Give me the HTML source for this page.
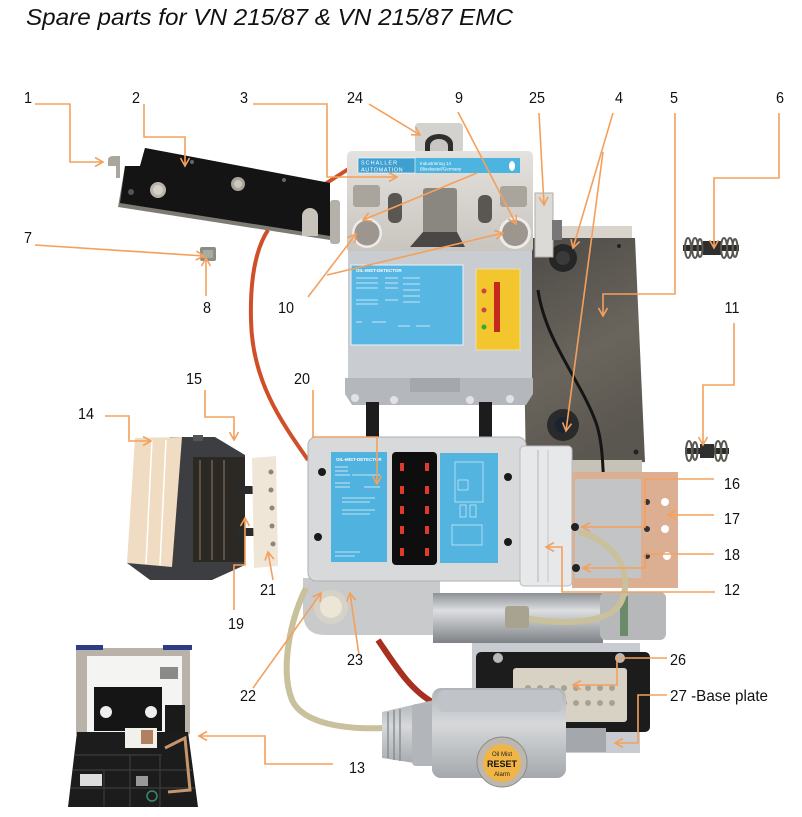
<!DOCTYPE html>
<html><head><meta charset="utf-8">
<style>
html,body{margin:0;padding:0;background:#fff;}
body{width:802px;height:817px;overflow:hidden;}
svg{display:block;}
.t{font-family:"Liberation Sans",Arial,sans-serif;font-size:16px;fill:#111;}
.ld{fill:none;stroke:#f4a05c;stroke-width:1.6;}
</style></head>
<body>
<svg width="802" height="817" viewBox="0 0 802 817" xmlns="http://www.w3.org/2000/svg">
<defs>
<marker id="a" markerWidth="12" markerHeight="12" refX="9" refY="5" orient="auto" markerUnits="userSpaceOnUse">
<path d="M1,0.5 L9,5 L1,9.5" fill="none" stroke="#f4a05c" stroke-width="1.6"/>
</marker>
<linearGradient id="plate" x1="0" y1="0" x2="0.3" y2="1">
<stop offset="0" stop-color="#4c4a47"/><stop offset="0.6" stop-color="#6a655c"/><stop offset="1" stop-color="#5a5650"/>
</linearGradient>
<linearGradient id="metal" x1="0" y1="0" x2="0" y2="1">
<stop offset="0" stop-color="#e4e2de"/><stop offset="1" stop-color="#c8c4be"/>
</linearGradient>
<linearGradient id="cyl" x1="0" y1="0" x2="0" y2="1">
<stop offset="0" stop-color="#8e9296"/><stop offset="0.35" stop-color="#dcdee0"/><stop offset="1" stop-color="#7e8286"/>
</linearGradient>
<linearGradient id="hood" x1="0" y1="0" x2="0" y2="1">
<stop offset="0" stop-color="#b0b4b8"/><stop offset="0.4" stop-color="#d6d8da"/><stop offset="1" stop-color="#a4a8ac"/>
</linearGradient>
</defs>

<!-- Title -->
<text x="26" y="25" textLength="487" lengthAdjust="spacingAndGlyphs" style="font-family:'Liberation Sans',Arial,sans-serif;font-size:23px;font-style:italic;fill:#111;">Spare parts for VN 215/87 &amp; VN 215/87 EMC</text>

<!-- ===== Back plate ===== -->
<rect x="538" y="226" width="94" height="14" fill="#d8d4cc"/>
<polygon points="522,238 635,238 645,462 526,470" fill="url(#plate)"/>
<circle cx="619" cy="246" r="2" fill="#222"/>
<circle cx="636" cy="452" r="2.5" fill="#222"/>
<rect x="568" y="460" width="74" height="14" fill="#c6c2b8"/>
<!-- black cable -->
<path d="M538 290 C545 340 580 380 595 420 C603 440 603 470 604 492" fill="none" stroke="#151515" stroke-width="3"/>
<!-- grommets -->
<circle cx="563" cy="258" r="14" fill="#262626"/><circle cx="563" cy="258" r="7" fill="#3a3a3a"/>
<circle cx="563" cy="425" r="16" fill="#2a2a2a"/><circle cx="563" cy="425" r="8" fill="#1a2430"/>

<!-- springs 6 & 11 -->
<g>
<rect x="683" y="245" width="56" height="6" fill="#2a2a2a"/>
<rect x="703" y="241" width="18" height="14" fill="#2e2e2e"/>
<g fill="none" stroke="#5a5650" stroke-width="2">
<ellipse cx="688" cy="248" rx="3" ry="10"/><ellipse cx="695" cy="248" rx="3" ry="10"/><ellipse cx="700" cy="248" rx="2.5" ry="9"/>
<ellipse cx="724" cy="248" rx="3" ry="10"/><ellipse cx="730" cy="248" rx="3" ry="10"/><ellipse cx="735" cy="248" rx="2.5" ry="9"/>
</g>
</g>
<g>
<rect x="685" y="448" width="44" height="6" fill="#2a2a2a"/>
<rect x="700" y="444" width="14" height="14" fill="#2e2e2e"/>
<g fill="none" stroke="#5a5650" stroke-width="2">
<ellipse cx="689" cy="451" rx="3" ry="10"/><ellipse cx="695" cy="451" rx="2.5" ry="9"/>
<ellipse cx="718" cy="451" rx="3" ry="10"/><ellipse cx="724" cy="451" rx="3" ry="10"/>
</g>
</g>

<!-- red cable upper -->
<path d="M350 168 L322 186" fill="none" stroke="#cf4f28" stroke-width="4"/>
<path d="M268 230 C255 250 250 280 251 320 C252 380 280 420 308 460" fill="none" stroke="#cf4f28" stroke-width="4"/>

<!-- bracket part 2 -->
<polygon points="145,148 330,183 330,240 118,207 125,166 140,166" fill="#7e7a74"/>
<polygon points="145,148 330,183 330,236 120,203 125,166 140,166" fill="#141414"/>
<circle cx="158" cy="190" r="8" fill="#b8b4aa"/><circle cx="158" cy="190" r="5" fill="#d4d0c6"/>
<circle cx="238" cy="184" r="7" fill="#a8a49a"/><circle cx="238" cy="184" r="4" fill="#ccc8be"/>
<path d="M302 216 a8 8 0 0 1 16 0 v20 h-16 z" fill="#c8c4bc"/>
<circle cx="192" cy="162" r="2" fill="#666"/><circle cx="284" cy="180" r="2" fill="#666"/><circle cx="131" cy="192" r="3" fill="#555"/>
<rect x="330" y="200" width="10" height="44" rx="3" fill="#b4b0aa"/>
<!-- part 1 clip -->
<path d="M108 160 q0 -4 6 -4 h6 v22 h-4 v-12 h-8 z" fill="#aaa69e"/>
<!-- part 7/8 bolt -->
<rect x="200" y="247" width="16" height="14" rx="2" fill="#8a8e84"/>
<rect x="203" y="250" width="10" height="8" fill="#a8aca0"/>

<!-- ===== Upper device ===== -->
<rect x="415" y="123" width="48" height="30" rx="4" fill="#d4d2ce"/>
<path d="M425 152 v-8 a14 10 0 0 1 28 0 v8 z" fill="#2e2e2e"/>
<path d="M430 152 v-6 a9 7 0 0 1 18 0 v6 z" fill="#c8c6c2"/>
<rect x="347" y="151" width="186" height="102" rx="5" fill="url(#metal)"/>
<rect x="358" y="158" width="162" height="15" fill="#4db4e0"/>
<rect x="358" y="158" width="57" height="15" fill="#3f9fd0" stroke="#fff" stroke-width="0.6"/>
<text x="361" y="164.5" style="font-family:'Liberation Sans',sans-serif;font-size:5.5px;fill:#fff;letter-spacing:1px">SCHALLER</text>
<text x="361" y="171.5" style="font-family:'Liberation Sans',sans-serif;font-size:5.5px;fill:#fff;letter-spacing:0.6px">AUTOMATION</text>
<text x="420" y="165" style="font-family:'Liberation Sans',sans-serif;font-size:4.5px;fill:#fff">Industriering 14</text>
<text x="420" y="170.5" style="font-family:'Liberation Sans',sans-serif;font-size:4.5px;fill:#fff">Blieskastel/Germany</text>
<ellipse cx="512" cy="166" rx="3" ry="5" fill="#fff"/>
<rect x="353" y="185" width="27" height="22" rx="3" fill="#a9a49c"/>
<rect x="500" y="186" width="27" height="21" rx="3" fill="#a9a49c"/>
<rect x="388" y="193" width="14" height="30" rx="6" fill="#5a5652"/>
<rect x="478" y="195" width="14" height="28" rx="6" fill="#5a5652"/>
<rect x="423" y="188" width="34" height="46" rx="3" fill="#8a8680"/>
<polygon points="410,247 423,232 457,232 465,247" fill="#4a4846"/>
<circle cx="367" cy="233" r="15" fill="#eeecea"/><circle cx="367" cy="233" r="12.5" fill="#9c968e"/>
<circle cx="515" cy="233" r="16" fill="#eeecea"/><circle cx="515" cy="233" r="13" fill="#9c968e"/>
<rect x="348" y="251" width="184" height="128" fill="#c9ccd0"/>
<rect x="351" y="265" width="112" height="80" fill="#58b6e2" stroke="#e8f4fa" stroke-width="1"/>
<text x="356" y="272" style="font-family:'Liberation Sans',sans-serif;font-size:4.5px;fill:#fff;font-weight:bold">OIL-MIST-DETECTOR</text>
<g stroke="#e6f4fb" stroke-width="0.8">
<line x1="356" y1="278" x2="378" y2="278"/><line x1="385" y1="278" x2="398" y2="278"/><line x1="403" y1="278" x2="420" y2="278"/>
<line x1="356" y1="283" x2="378" y2="283"/><line x1="385" y1="283" x2="398" y2="283"/><line x1="403" y1="284" x2="420" y2="284"/>
<line x1="356" y1="288" x2="378" y2="288"/><line x1="385" y1="288" x2="398" y2="288"/><line x1="403" y1="290" x2="420" y2="290"/>
<line x1="356" y1="300" x2="378" y2="300"/><line x1="385" y1="300" x2="398" y2="300"/><line x1="403" y1="296" x2="420" y2="296"/>
<line x1="356" y1="304" x2="378" y2="304"/><line x1="403" y1="302" x2="420" y2="302"/>
<line x1="356" y1="322" x2="362" y2="322"/><line x1="372" y1="322" x2="386" y2="322"/><line x1="398" y1="326" x2="410" y2="326"/><line x1="416" y1="326" x2="430" y2="326"/>
</g>
<rect x="476" y="269" width="44" height="81" fill="#f2c62c" stroke="#e8e0b0" stroke-width="1"/>
<rect x="494" y="282" width="6" height="50" fill="#c42a1c"/>
<circle cx="484" cy="291" r="2.5" fill="#c44"/><circle cx="484" cy="310" r="2.5" fill="#c44"/><circle cx="484" cy="327" r="2.5" fill="#3a3"/>
<path d="M345 378 H533 V394 L526 405 H352 L345 394 Z" fill="#b4b8bc"/>
<rect x="410" y="378" width="50" height="14" fill="#a4a8ac"/>
<circle cx="355" cy="398" r="4" fill="#e2e2e2"/><circle cx="394" cy="400" r="4" fill="#e2e2e2"/><circle cx="470" cy="400" r="4" fill="#e2e2e2"/><circle cx="510" cy="399" r="4" fill="#e2e2e2"/>
<rect x="366" y="402" width="13" height="40" fill="#1c1c1c"/>
<rect x="479" y="402" width="13" height="40" fill="#1c1c1c"/>
<rect x="535" y="193" width="18" height="64" fill="#dcdad6" stroke="#b0aea8" stroke-width="1"/>
<rect x="552" y="220" width="10" height="20" fill="#777"/>

<!-- ===== Middle area ===== -->
<!-- gasket and casting -->
<rect x="572" y="472" width="106" height="116" fill="#dcae92"/>
<rect x="575" y="479" width="66" height="99" fill="#c2c4c6"/>
<circle cx="665" cy="502" r="4" fill="#fff"/><circle cx="665" cy="529" r="4" fill="#fff"/><circle cx="667" cy="556" r="4" fill="#fff"/>
<circle cx="647" cy="502" r="3" fill="#333"/><circle cx="647" cy="529" r="3" fill="#333"/><circle cx="647" cy="556" r="3" fill="#333"/>
<!-- bottom housing + cylinder -->
<path d="M303 578 H440 V635 H325 Q303 635 303 612 Z" fill="#c8cacc"/>
<rect x="433" y="593" width="170" height="50" fill="url(#cyl)"/>
<rect x="600" y="592" width="66" height="48" rx="6" fill="#b6b8ba"/>
<rect x="620" y="596" width="8" height="40" fill="#6a8a6a"/>
<circle cx="331" cy="607" r="17" fill="#d6d2c8"/><circle cx="331" cy="607" r="11" fill="#ece6d6"/>
<!-- main box -->
<rect x="308" y="437" width="218" height="144" rx="8" fill="#d7d9db" stroke="#aeb0b2" stroke-width="1"/>
<rect x="520" y="446" width="52" height="140" rx="4" fill="#e6e8ea" stroke="#b8babc" stroke-width="1"/>
<line x1="538" y1="450" x2="538" y2="582" stroke="#c4c6c8" stroke-width="1.5"/>
<line x1="548" y1="450" x2="548" y2="582" stroke="#c4c6c8" stroke-width="1"/>
<rect x="331" y="452" width="56" height="110" fill="#50b2de"/>
<text x="336" y="461" style="font-family:'Liberation Sans',sans-serif;font-size:4.5px;fill:#fff;font-weight:bold">OIL-MIST-DETECTOR</text>
<g stroke="#e6f4fb" stroke-width="0.8">
<line x1="335" y1="467" x2="348" y2="467"/><line x1="335" y1="471" x2="348" y2="471"/><line x1="335" y1="475" x2="350" y2="475"/><line x1="352" y1="475" x2="380" y2="475"/>
<line x1="335" y1="483" x2="350" y2="483"/><line x1="335" y1="487" x2="350" y2="487"/><line x1="364" y1="487" x2="380" y2="487"/>
<line x1="342" y1="498" x2="375" y2="498"/><line x1="342" y1="502" x2="370" y2="502"/><line x1="342" y1="510" x2="375" y2="510"/><line x1="342" y1="514" x2="370" y2="514"/>
<line x1="335" y1="552" x2="360" y2="552"/><line x1="335" y1="556" x2="355" y2="556"/>
</g>
<rect x="392" y="452" width="45" height="113" rx="4" fill="#0e0e0e"/>
<g fill="#e03a2a">
<rect x="400" y="463" width="4" height="8"/><rect x="425" y="463" width="4" height="8"/>
<rect x="400" y="486" width="4" height="8"/><rect x="425" y="486" width="4" height="8"/>
<rect x="400" y="506" width="4" height="8"/><rect x="425" y="506" width="4" height="8"/>
<rect x="400" y="526" width="4" height="8"/><rect x="425" y="526" width="4" height="8"/>
<rect x="400" y="548" width="4" height="8"/><rect x="425" y="548" width="4" height="8"/>
</g>
<rect x="440" y="453" width="58" height="110" fill="#52b4df"/>
<g fill="none" stroke="#d8eef8" stroke-width="0.7">
<rect x="455" y="462" width="28" height="40"/><rect x="458" y="480" width="10" height="10"/>
<rect x="460" y="505" width="6" height="12"/><rect x="470" y="505" width="6" height="12"/>
<path d="M452 525 h30 v20 h-30 z"/>
</g>
<circle cx="322" cy="472" r="4" fill="#1a1a1a"/><circle cx="318" cy="537" r="4" fill="#1a1a1a"/>
<circle cx="508" cy="477" r="4" fill="#1a1a1a"/><circle cx="508" cy="542" r="4" fill="#1a1a1a"/>
<circle cx="575" cy="527" r="4" fill="#222"/><circle cx="576" cy="568" r="4" fill="#222"/>
<!-- tan cables -->
<path d="M578 532 C612 540 634 570 622 600 C612 625 560 625 525 618" fill="none" stroke="#c9c09c" stroke-width="6"/>
<rect x="505" y="606" width="24" height="22" rx="3" fill="#a8a290"/>
<path d="M306 588 C290 620 280 670 292 700 C302 722 340 730 385 728" fill="none" stroke="#c9c09c" stroke-width="6"/>
<!-- red cable lower -->
<path d="M378 640 C395 665 410 690 434 703" fill="none" stroke="#a83020" stroke-width="6"/>

<!-- ===== Connector bottom ===== -->
<rect x="472" y="643" width="168" height="110" fill="#c8ccd0"/>
<rect x="476" y="652" width="174" height="80" rx="5" fill="#1c1c1c"/>
<rect x="513" y="668" width="114" height="54" rx="3" fill="#d8d2c4"/>
<g fill="#a8a294">
<circle cx="528" cy="688" r="3"/><circle cx="540" cy="688" r="3"/><circle cx="552" cy="688" r="3"/><circle cx="564" cy="688" r="3"/><circle cx="576" cy="688" r="3"/><circle cx="588" cy="688" r="3"/><circle cx="600" cy="688" r="3"/><circle cx="612" cy="688" r="3"/>
<circle cx="528" cy="703" r="3"/><circle cx="540" cy="703" r="3"/><circle cx="552" cy="703" r="3"/><circle cx="564" cy="703" r="3"/><circle cx="576" cy="703" r="3"/><circle cx="588" cy="703" r="3"/><circle cx="600" cy="703" r="3"/><circle cx="612" cy="703" r="3"/>
</g>
<circle cx="498" cy="658" r="5" fill="#b8b8b4"/><circle cx="620" cy="658" r="5" fill="#b8b8b4"/>
<rect x="566" y="728" width="40" height="24" fill="#a4a8ac"/>
<polygon points="382,712 434,700 434,766 382,758" fill="url(#hood)"/>
<g stroke="#8a8e92" stroke-width="1.5"><line x1="388" y1="712" x2="388" y2="758"/><line x1="394" y1="710" x2="394" y2="760"/><line x1="400" y1="709" x2="400" y2="761"/></g>
<rect x="412" y="704" width="24" height="62" rx="4" fill="#b2b6ba"/>
<rect x="432" y="688" width="134" height="90" rx="9" fill="url(#hood)"/>
<rect x="438" y="690" width="124" height="22" rx="6" fill="#c0c4c8"/>
<circle cx="502" cy="762" r="25" fill="#bcb8b0" stroke="#8c8a86" stroke-width="1"/>
<circle cx="502" cy="763" r="19" fill="#f0b545"/>
<text x="502" y="756" text-anchor="middle" style="font-family:'Liberation Sans',sans-serif;font-size:6px;fill:#222">Oil Mist</text>
<text x="502" y="767" text-anchor="middle" style="font-family:'Liberation Sans',sans-serif;font-size:9px;font-weight:bold;fill:#111">RESET</text>
<text x="502" y="776" text-anchor="middle" style="font-family:'Liberation Sans',sans-serif;font-size:6px;fill:#222">Alarm</text>

<!-- ===== Filter 14/15, part 21 ===== -->
<polygon points="170,437 215,437 245,455 245,565 212,580 150,580 127,563 170,560" fill="#3c3e42"/>
<rect x="193" y="457" width="52" height="105" fill="#2c2824"/>
<g stroke="#5e5244" stroke-width="2"><line x1="200" y1="460" x2="200" y2="560"/><line x1="212" y1="460" x2="212" y2="560"/><line x1="224" y1="460" x2="224" y2="560"/></g>
<rect x="193" y="435" width="10" height="6" fill="#555"/>
<polygon points="135,438 182,437 172,567 127,563" fill="#f0dcc2"/>
<line x1="152" y1="440" x2="146" y2="564" stroke="#fff" stroke-width="1.5"/>
<line x1="166" y1="440" x2="160" y2="565" stroke="#fff" stroke-width="1.5"/>
<rect x="235" y="486" width="20" height="8" fill="#2a2a2a"/>
<rect x="235" y="528" width="20" height="8" fill="#2a2a2a"/>
<polygon points="252,458 276,456 278,566 254,568" fill="#efe6d8"/>
<g fill="#8a8680"><circle cx="271" cy="472" r="2.5"/><circle cx="271" cy="490" r="2.5"/><circle cx="272" cy="508" r="2.5"/><circle cx="272" cy="526" r="2.5"/><circle cx="273" cy="544" r="2.5"/></g>

<!-- ===== Kit box 13 ===== -->
<rect x="76" y="648" width="114" height="86" fill="#b8b2a8"/>
<rect x="87" y="656" width="95" height="76" fill="#f4f4f2"/>
<rect x="94" y="687" width="68" height="44" fill="#151515"/>
<circle cx="106" cy="712" r="6" fill="#eee"/><circle cx="151" cy="712" r="6" fill="#eee"/>
<rect x="165" y="705" width="20" height="32" fill="#1a1a1a"/>
<rect x="160" y="667" width="18" height="12" fill="#8a8a8a"/>
<rect x="76" y="645" width="27" height="5" fill="#2e3c88"/>
<rect x="163" y="645" width="29" height="5" fill="#2e3c88"/>
<polygon points="77,732 188,732 198,807 68,807" fill="#1c1c1c"/>
<g stroke="#3c3c3c" stroke-width="1.2" fill="none">
<line x1="75" y1="755" x2="162" y2="755"/><line x1="73" y1="770" x2="192" y2="770"/><line x1="71" y1="788" x2="195" y2="788"/>
<line x1="104" y1="770" x2="104" y2="807"/><line x1="130" y1="755" x2="130" y2="807"/><line x1="160" y1="755" x2="160" y2="807"/>
</g>
<rect x="125" y="728" width="32" height="20" fill="#f2f0ea"/>
<rect x="141" y="730" width="12" height="14" fill="#b08060"/>
<polyline points="165,748 185,738 190,790 168,792" fill="none" stroke="#c8966c" stroke-width="3"/>
<rect x="80" y="774" width="22" height="12" fill="#ddd"/>
<rect x="136" y="776" width="12" height="10" fill="#999"/>
<circle cx="152" cy="796" r="5" fill="none" stroke="#3a8a6a" stroke-width="1.5"/>

<!-- ===== Leader lines ===== -->
<g class="ld" marker-end="url(#a)">
<polyline points="35,104 70,104 70,162 103,162"/>
<polyline points="144,104 144,137 185,137 185,166"/>
<polyline points="253,104 327,104 327,177 397,177"/>
<polyline points="369,104 420,135"/>
<polyline points="458,112 516,224"/>
<polyline points="477,173 363,220"/>
<polyline points="308,297 356,234"/>
<polyline points="327,275 503,233"/>
<polyline points="539,113 544,205"/>
<polyline points="613,113 573,248"/>
<polyline points="603,152 566,431"/>
<polyline points="675,113 675,294 603,294 603,316"/>
<polyline points="779,113 779,178 714,178 714,248"/>
<polyline points="35,245 204,256"/>
<polyline points="206,296 206,258"/>
<polyline points="734,323 734,385 703,385 703,445"/>
<polyline points="205,390 205,417 234,417 234,440"/>
<polyline points="105,416 129,416 129,441 151,441"/>
<polyline points="313,390 313,437 377,437 377,484"/>
<polyline points="714,479 645,479 645,527 582,527"/>
<polyline points="714,515 668,515"/>
<polyline points="714,554 645,554 645,568 583,568"/>
<polyline points="715,592 562,592 562,547 546,547"/>
<polyline points="273,580 268,552"/>
<polyline points="234,610 234,565 245,565 245,518"/>
<polyline points="253,688 321,593"/>
<polyline points="359,655 350,593"/>
<polyline points="667,658 617,658 617,685 573,685"/>
<polyline points="667,695 638,695 638,743 615,743"/>
<polyline points="333,764 265,764 265,736 199,736"/>
</g>

<!-- ===== Labels ===== -->
<g class="t" text-anchor="middle">
<text transform="translate(28 103) scale(.9 1)">1</text>
<text transform="translate(136 103) scale(.9 1)">2</text>
<text transform="translate(244 103) scale(.9 1)">3</text>
<text transform="translate(355 103) scale(.9 1)">24</text>
<text transform="translate(459 103) scale(.9 1)">9</text>
<text transform="translate(537 103) scale(.9 1)">25</text>
<text transform="translate(619 103) scale(.9 1)">4</text>
<text transform="translate(674 103) scale(.9 1)">5</text>
<text transform="translate(780 103) scale(.9 1)">6</text>
<text transform="translate(28 243) scale(.9 1)">7</text>
<text transform="translate(207 313) scale(.9 1)">8</text>
<text transform="translate(286 313) scale(.9 1)">10</text>
<text transform="translate(732 313) scale(.9 1)">11</text>
<text transform="translate(194 384) scale(.9 1)">15</text>
<text transform="translate(302 384) scale(.9 1)">20</text>
<text transform="translate(86 419) scale(.9 1)">14</text>
<text transform="translate(732 489) scale(.9 1)">16</text>
<text transform="translate(732 524) scale(.9 1)">17</text>
<text transform="translate(732 560) scale(.9 1)">18</text>
<text transform="translate(732 595) scale(.9 1)">12</text>
<text transform="translate(268 595) scale(.9 1)">21</text>
<text transform="translate(236 629) scale(.9 1)">19</text>
<text transform="translate(355 665) scale(.9 1)">23</text>
<text transform="translate(678 665) scale(.9 1)">26</text>
<text transform="translate(248 701) scale(.9 1)">22</text>
<text transform="translate(357 773) scale(.9 1)">13</text>
</g>
<text class="t" x="670" y="701" textLength="98" lengthAdjust="spacingAndGlyphs">27 -Base plate</text>
</svg>
</body></html>
